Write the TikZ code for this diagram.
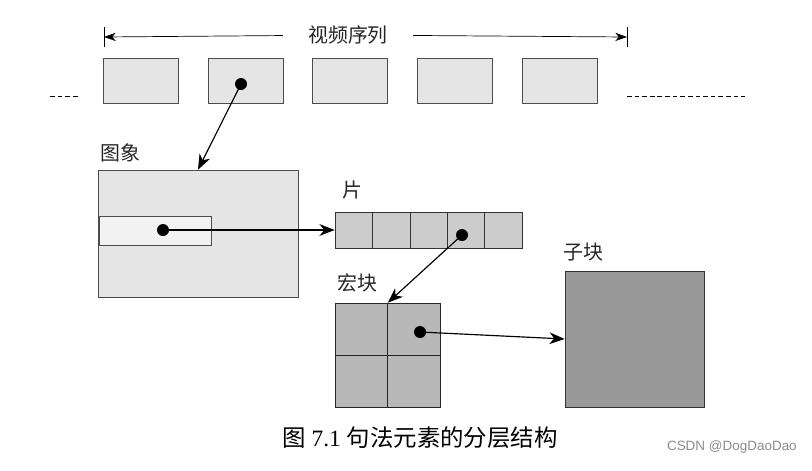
\documentclass[tikz,border=0pt]{standalone}
\usepackage{fontspec}
\setmainfont{Liberation Serif}
\newfontfamily\cjk{Noto Sans CJK SC}
\newfontfamily\wmfont{Liberation Sans}
\usetikzlibrary{arrows.meta}

\tikzset{
	frame/.style={draw=black!70, fill=black!10, line width=0.5pt, minimum width=2.25cm, minimum height=1.35cm, inner sep=0pt},
	cell/.style={draw=black!80, fill=black!20, line width=0.5pt, minimum width=1.122cm, minimum height=1.08cm, inner sep=0pt},
	mbcell/.style={draw=black!85, fill=black!28, line width=0.5pt, minimum width=1.575cm, minimum height=1.56cm, inner sep=0pt},
	dot/.style={circle, fill=black, minimum size=0.36cm, inner sep=0pt},
	link/.style={line width=1pt, -{Stealth[length=13pt,width=10pt,inset=4pt]}},
	lbl/.style={font=\cjk\fontsize{17}{17}\selectfont, text=black!85, inner sep=0pt}
}

\begin{document}
\begin{tikzpicture}[x=0.03cm, y=-0.03cm]
		%%%%% START %%%%%
		\useasboundingbox (0,0) rectangle (812,470);
		
		% sequence
		\coordinate (lb) at (104,37);
		\coordinate (rb) at (627,37);
		\node[lbl, fill=white, inner xsep=0.75cm] (seq) at (348,35) {视频序列};
		\draw[line width=0.6pt] (104,27) -- (104,47);
		\draw[line width=0.6pt] (627,27) -- (627,47);
		\draw[line width=0.6pt, -{Stealth[length=10pt,width=7pt,inset=3pt]}] (seq) -- (lb);
		\draw[line width=0.6pt, -{Stealth[length=10pt,width=7pt,inset=3pt]}] (seq) -- (rb);
		
		\foreach \i in {1,...,5}
			\node[frame] (f\i) at ({140.5+104.8*(\i-1)},80.5) {};
		
		\coordinate (dl1) at (50,96);
		\coordinate (dl2) at (80,96);
		\coordinate (dr1) at (627,96);
		\coordinate (dr2) at (745,96);
		\draw[line width=0.5pt, dash pattern=on 4pt off 2.5pt] (dl1) -- (dl2);
		\draw[line width=0.5pt, dash pattern=on 4pt off 2.5pt] (dr1) -- (dr2);
		
		% picture
		\node[frame, minimum width=6cm, minimum height=3.81cm] (pic) at (198,233.5) {};
		\node[frame, fill=black!5, minimum width=3.36cm, minimum height=0.87cm] (strip) at (155,230.5) {};
		\node[lbl] (piclbl) at (120,153) {图象};
		
		% slice
		\foreach \i in {1,...,5}
			\node[cell] (s\i) at ({353.7+37.4*(\i-1)},230) {};
		\node[lbl] (slbl) at (352,190) {片};
		
		% macroblock
		\node[mbcell] (m1) at (361.25,329) {};
		\node[mbcell] (m2) at (413.75,329) {};
		\node[mbcell] (m3) at (361.25,381) {};
		\node[mbcell] (m4) at (413.75,381) {};
		\node[lbl] (mlbl) at (357,283) {宏块};
		
		% sub-block
		\node[draw=black!80, fill=black!40, line width=0.5pt, minimum width=4.17cm, minimum height=4.08cm, inner sep=0pt] (sub) at (634.5,339) {};
		\node[lbl] (sublbl) at (583,252) {子块};
		
		% links
		\node[dot] (d1) at (241,84) {};
		\node[dot] (d2) at (163,230) {};
		\node[dot] (d3) at (462,235) {};
		\node[dot] (d4) at (420,332) {};
		\draw[link] (d1.center) -- (pic.north);
		\draw[link] (d2.center) -- (s1.west);
		\draw[link] (d3.center) -- (m1.north east);
		\draw[link] (d4.center) -- (sub.west);
		
		% caption
		\node[font=\fontsize{20}{20}\selectfont, inner sep=0pt] (cap) at (420,438) {{\cjk 图} 7.1 {\cjk 句法元素的分层结构}};
		\node[font=\wmfont\fontsize{11.5}{11.5}\selectfont, text=black!45, anchor=east, inner sep=0pt] (wm) at (797,447) {CSDN @DogDaoDao};
		
		%%%%% END %%%%%
	\end{tikzpicture}
\end{document}
